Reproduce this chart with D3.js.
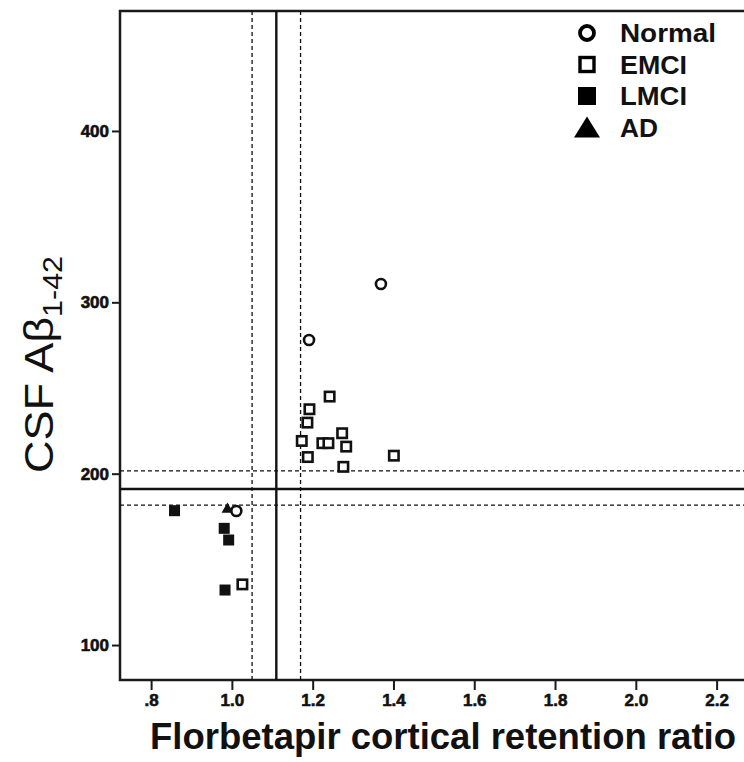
<!DOCTYPE html>
<html>
<head>
<meta charset="utf-8">
<script src="https://cdn.jsdelivr.net/npm/d3@7"></script>
<style>
  body { margin: 0; background: #fff; }
  svg { display: block; font-family: Arial, "Liberation Sans", sans-serif; }
</style>
</head>
<body>
<div id="chart"></div>
<script>
'use strict';

// values
var groups = ['Normal', 'EMCI', 'LMCI', 'AD'];
var normalX = [1.369, 1.191, 1.011];
var normalY = [310.7, 278, 178.2];
var emciX = [1.242, 1.192, 1.187, 1.273, 1.173, 1.224, 1.239, 1.283, 1.188, 1.401, 1.276, 1.026];
var emciY = [245, 237.6, 229.8, 223.6, 219.1, 217.8, 217.8, 215.8, 209.7, 210.5, 204, 135.4];
var lmciX = [0.858, 0.981, 0.992, 0.983];
var lmciY = [178.4, 168.1, 161.3, 132.1];
var adX = [0.989];
var adY = [179.2];

// cutoffs: florbetapir ratio and CSF level (solid = cutoff, dashed = range)
var xCuts = [1.05, 1.11, 1.17];
var yCuts = [181.7, 191.1, 201.6];
var xTicks = [0.8, 1.0, 1.2, 1.4, 1.6, 1.8, 2.0, 2.2];
var yTicks = [100, 200, 300, 400];

var width = 744, height = 762;
var margin = {top: 11, left: 120, bottom: 82};
var plotRight = 757;

var svg = d3.select('#chart').append('svg')
  .attr('width', width)
  .attr('height', height);

var x = d3.scaleLinear().domain([0.723, 2.3]).range([margin.left, plotRight]);
var y = d3.scaleLinear().domain([79.6, 470]).range([height - margin.bottom, margin.top]);

function pts(xs, ys) {
  return xs.map(function(d, i) { return {x: d, y: ys[i]}; });
}

// frame
svg.append('rect')
  .attr('x', x.range()[0])
  .attr('y', y.range()[1])
  .attr('width', plotRight - x.range()[0])
  .attr('height', y.range()[0] - y.range()[1])
  .attr('fill', 'none')
  .attr('stroke', '#1a1a1a')
  .attr('stroke-width', 2.5);

// reference lines
var yr = y.range(), xr = x.range();
svg.selectAll('.vcut').data(xCuts).enter().append('line')
  .attr('class', 'vcut')
  .attr('x1', function(d) { return x(d); })
  .attr('x2', function(d) { return x(d); })
  .attr('y1', yr[1]).attr('y2', yr[0])
  .attr('stroke', '#111')
  .attr('stroke-width', function(d, i) { return i == 1 ? 2.4 : 1.3; })
  .attr('stroke-dasharray', function(d, i) { return i == 1 ? null : '4,3'; });

svg.selectAll('.hcut').data(yCuts).enter().append('line')
  .attr('class', 'hcut')
  .attr('y1', function(d) { return y(d); })
  .attr('y2', function(d) { return y(d); })
  .attr('x1', xr[0]).attr('x2', xr[1])
  .attr('stroke', '#111')
  .attr('stroke-width', function(d, i) { return i == 1 ? 2.4 : 1.3; })
  .attr('stroke-dasharray', function(d, i) { return i == 1 ? null : '4,3'; });

// axes
var xAxis = d3.axisBottom(x).tickValues(xTicks).tickSize(10).tickSizeOuter(0)
  .tickFormat(function(d) { return d3.format('.1f')(d).replace(/^0/, ''); });
var yAxis = d3.axisLeft(y).tickValues(yTicks).tickSize(8).tickSizeOuter(0);

var gx = svg.append('g')
  .attr('transform', 'translate(0,' + yr[0] + ')')
  .call(xAxis);
var gy = svg.append('g')
  .attr('transform', 'translate(' + xr[0] + ',0)')
  .call(yAxis);

[gx, gy].forEach(function(g) {
  g.attr('font-size', null).attr('font-family', null);
  g.select('.domain').remove();
  g.selectAll('.tick line').attr('stroke', '#1a1a1a').attr('stroke-width', 2);
  g.selectAll('.tick text')
    .attr('fill', '#111')
    .attr('stroke', '#111')
    .attr('stroke-width', 0.6)
    .style('font-size', '17px')
    .style('font-weight', 'bold')
    .style('font-family', 'Arial, "Liberation Sans", sans-serif');
});
gx.selectAll('.tick text').attr('y', 14);
gy.selectAll('.tick text').attr('x', -11);

// markers
var sq = 12;
var plot = svg.append('g');

plot.selectAll('.ad').data(pts(adX, adY)).enter().append('path')
  .attr('class', 'ad')
  .attr('d', d3.symbol().type(d3.symbolTriangle).size(60))
  .attr('transform', function(d) { return 'translate(' + x(d.x) + ',' + y(d.y) + ')'; })
  .attr('fill', '#111');

plot.selectAll('.normal').data(pts(normalX, normalY)).enter().append('circle')
  .attr('class', 'normal')
  .attr('cx', function(d) { return x(d.x); })
  .attr('cy', function(d) { return y(d.y); })
  .attr('r', 5)
  .attr('fill', '#fff')
  .attr('stroke', '#111')
  .attr('stroke-width', 2.6);

plot.selectAll('.emci').data(pts(emciX, emciY)).enter().append('rect')
  .attr('class', 'emci')
  .attr('x', function(d) { return x(d.x) - sq / 2 + 1.3; })
  .attr('y', function(d) { return y(d.y) - sq / 2 + 1.3; })
  .attr('width', sq - 2.6).attr('height', sq - 2.6)
  .attr('fill', '#fff')
  .attr('stroke', '#111')
  .attr('stroke-width', 2.6);

plot.selectAll('.lmci').data(pts(lmciX, lmciY)).enter().append('rect')
  .attr('class', 'lmci')
  .attr('x', function(d) { return x(d.x) - 5.5; })
  .attr('y', function(d) { return y(d.y) - 5.5; })
  .attr('width', 11).attr('height', 11)
  .attr('fill', '#111');

// legend
var leg = svg.append('g').attr('transform', 'translate(587,33)');
var legStep = 31.5;
var items = leg.selectAll('g').data(groups).enter().append('g')
  .attr('transform', function(d, i) { return 'translate(0,' + (i * legStep) + ')'; });

items.each(function(d) {
  var g = d3.select(this);
  if (d == 'Normal') {
    g.append('circle').attr('r', 7).attr('fill', '#fff').attr('stroke', '#000').attr('stroke-width', 3.8);
  } else if (d == 'EMCI') {
    g.append('rect').attr('x', -7).attr('y', -7).attr('width', 14).attr('height', 14)
      .attr('fill', '#fff').attr('stroke', '#000').attr('stroke-width', 3.4);
  } else if (d == 'LMCI') {
    g.append('rect').attr('x', -9).attr('y', -9).attr('width', 18).attr('height', 18).attr('fill', '#000');
  } else {
    g.append('path').attr('d', 'M0,-11L13,10L-13,10Z').attr('fill', '#000');
  }
});

var legLen = {Normal: 96, EMCI: 67, LMCI: 67, AD: 38};
items.append('text')
  .attr('x', 33)
  .attr('dy', '0.36em')
  .attr('textLength', function(d) { return legLen[d]; })
  .attr('lengthAdjust', 'spacingAndGlyphs')
  .style('font-size', '26px')
  .style('font-weight', 'bold')
  .attr('fill', '#111')
  .text(function(d) { return d; });

// axis titles
svg.append('text')
  .attr('x', 150)
  .attr('y', 749)
  .attr('textLength', 586)
  .attr('lengthAdjust', 'spacingAndGlyphs')
  .style('font-size', '37px')
  .style('font-weight', 'bold')
  .attr('fill', '#111')
  .text('Florbetapir cortical retention ratio');

var ytitle = svg.append('text')
  .attr('transform', 'translate(53,473) rotate(-90)')
  .attr('textLength', 217)
  .attr('lengthAdjust', 'spacingAndGlyphs')
  .style('font-size', '40px')
  .attr('fill', '#111');
ytitle.append('tspan').text('CSF A\u03b2');
ytitle.append('tspan')
  .attr('dy', 9)
  .style('font-size', '27px')
  .text('1-42');
</script>
</body>
</html>
